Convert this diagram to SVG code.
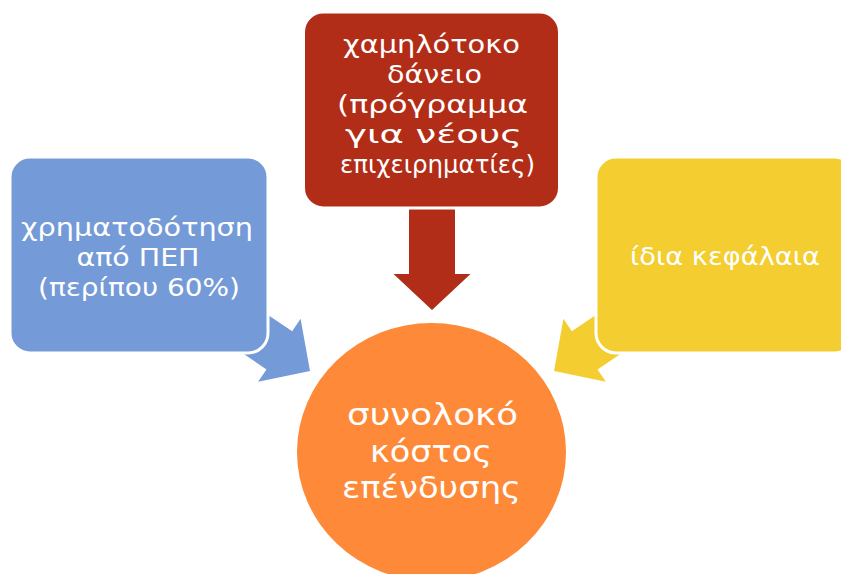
<svg xmlns="http://www.w3.org/2000/svg" width="841" height="574" viewBox="0 0 841 574">
  <defs>
    <style>
      .box { stroke: #ffffff; stroke-width: 3; }
      .lbl { font-family: "DejaVu Sans", "Noto Sans", sans-serif; fill: #ffffff; text-anchor: middle; font-size: 25px; }
      .big { font-size: 30px; }
    </style>
    <path id="arr" d="M0,0 L-37,-38 L-37,-23 L-130,-23 L-130,23 L-37,23 L-37,38 Z"/>
  </defs>
  <rect width="841" height="574" fill="#ffffff"/>
  <g id="connectors">
    <use href="#arr" fill="#749AD7" transform="translate(310,371) rotate(34)"/>
    <path d="M432,310 L393.5,274 L409,274 L409,200 L455,200 L455,274 L470.5,274 Z" fill="#B22D17"/>
    <use href="#arr" fill="#F4CD30" transform="translate(554,371) rotate(146)"/>
  </g>
  <g id="node-blue">
    <rect class="box" x="10" y="157" width="258" height="196" rx="20" fill="#749AD7"/>
    <text class="lbl" x="137" y="236" textLength="232" lengthAdjust="spacingAndGlyphs">χρηματοδότηση</text>
    <text class="lbl" x="138" y="266" textLength="123" lengthAdjust="spacingAndGlyphs">από ΠΕΠ</text>
    <text class="lbl" x="139" y="296" textLength="202" lengthAdjust="spacingAndGlyphs">(περίπου 60%)</text>
  </g>
  <g id="node-red">
    <rect class="box" x="303.5" y="12" width="256" height="196" rx="20" fill="#B22D17"/>
    <text class="lbl" x="431.5" y="53" textLength="177" lengthAdjust="spacingAndGlyphs">χαμηλότοκο</text>
    <text class="lbl" x="434.5" y="83" textLength="95" lengthAdjust="spacingAndGlyphs">δάνειο</text>
    <text class="lbl" x="432.5" y="113" textLength="191" lengthAdjust="spacingAndGlyphs">(πρόγραμμα</text>
    <text class="lbl" x="433.5" y="143" textLength="177" lengthAdjust="spacingAndGlyphs">για νέους</text>
    <text class="lbl" x="437.5" y="173" textLength="195" lengthAdjust="spacingAndGlyphs">επιχειρηματίες)</text>
  </g>
  <g id="node-yellow">
    <rect class="box" x="596" y="157" width="258" height="196" rx="20" fill="#F4CD30"/>
    <text class="lbl" x="725" y="265" textLength="190" lengthAdjust="spacingAndGlyphs">ίδια κεφάλαια</text>
  </g>
  <g id="node-total">
    <ellipse cx="431.5" cy="452" rx="134.5" ry="129" fill="#FE8938"/>
    <text class="lbl big" x="432.5" y="425" textLength="171" lengthAdjust="spacingAndGlyphs">συνολοκό</text>
    <text class="lbl big" x="431" y="462" textLength="122" lengthAdjust="spacingAndGlyphs">κόστος</text>
    <text class="lbl big" x="431.5" y="498" textLength="179" lengthAdjust="spacingAndGlyphs">επένδυσης</text>
  </g>
</svg>
